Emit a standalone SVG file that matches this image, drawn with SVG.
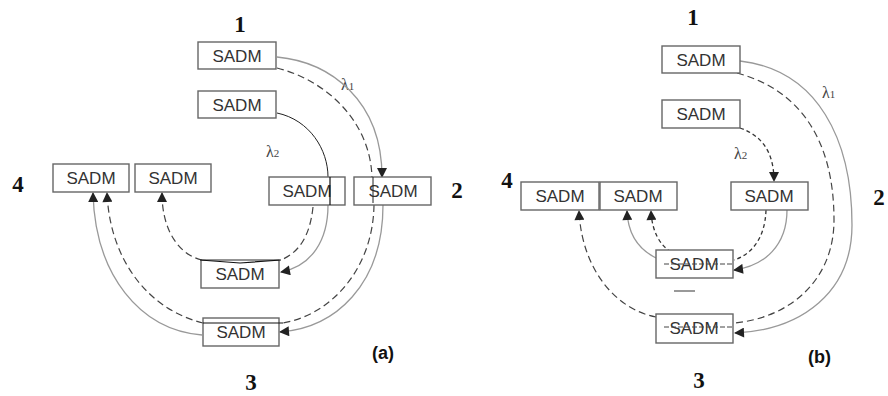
<svg xmlns="http://www.w3.org/2000/svg" width="888" height="396" viewBox="0 0 888 396">
<style>
.box rect{fill:#fff;stroke:#666;stroke-width:1.4}
.box text{font-family:"Liberation Sans",Arial,sans-serif;font-size:17px;fill:#333;text-anchor:middle}
.num{font-family:"Liberation Serif","Times New Roman",serif;font-weight:bold;font-size:23px;fill:#111;text-anchor:middle}
.lam{font-family:"Liberation Serif","Times New Roman",serif;font-size:16px;fill:#444}
.tag{font-family:"Liberation Sans",Arial,sans-serif;font-weight:bold;font-size:18px;fill:#111}
.sol{fill:none;stroke:#999;stroke-width:1.3}
.dsh{fill:none;stroke:#444;stroke-width:1.2;stroke-dasharray:7 4}
.dsh2{fill:none;stroke:#333;stroke-width:1.3;stroke-dasharray:4 3}
.thin{fill:none;stroke:#222;stroke-width:1}
.mark{fill:none;stroke:#111;stroke-width:1.2}
</style>
<defs>
<marker id="ah" viewBox="0 0 10 10" refX="9" refY="5" markerWidth="11" markerHeight="10" markerUnits="userSpaceOnUse" orient="auto">
<path d="M0,0 L10,5 L0,10 z" fill="#222"/>
</marker>
</defs>

<!-- labels -->
<text class="num" x="240" y="32">1</text>
<text class="num" x="18" y="192">4</text>
<text class="num" x="457" y="198">2</text>
<text class="num" x="251" y="390" font-weight="normal">3</text>
<text class="lam" x="341" y="90">λ<tspan font-size="11">1</tspan></text>
<text class="lam" x="266" y="157">λ<tspan font-size="11">2</tspan></text>
<text class="tag" x="372" y="359">(a)</text>

<text class="num" x="693" y="25">1</text>
<text class="num" x="507" y="188" font-size="20">4</text>
<text class="num" x="879" y="205">2</text>
<text class="num" x="699" y="388" font-weight="normal">3</text>
<text class="lam" x="822" y="98">λ<tspan font-size="11">1</tspan></text>
<text class="lam" x="734" y="159">λ<tspan font-size="11">2</tspan></text>
<text class="tag" x="808" y="363">(b)</text>

<!-- connectors -->
<g id="connectors">
<!-- panel a outer ring -->
<path class="sol" d="M277 57 C330 62 382 100 382 177" marker-end="url(#ah)"/>
<path class="dsh" d="M277 68 C325 80 370 120 372 177"/>
<path class="dsh" d="M374 205 C373 270 330 315 283 323"/>
<path class="sol" d="M383 205 C383 285 335 328 280 332" marker-end="url(#ah)"/>
<path class="sol" d="M202 335 C140 330 95 275 93 193" marker-end="url(#ah)"/>
<path class="dsh" d="M203 323 C150 310 110 262 107 193" marker-end="url(#ah)"/>
<!-- panel a inner ring -->
<path class="thin" d="M277 113 C310 120 328 150 328 177"/>
<path class="sol" d="M328 205 C328 240 312 266 281 272" marker-end="url(#ah)"/>
<path class="dsh" d="M313 207 C310 235 300 252 281 260"/>
<path class="dsh" d="M202 260 C180 255 162 232 162 193" marker-end="url(#ah)"/>

<!-- panel b outer ring -->
<path class="sol" d="M740 61 C818 70 852 140 852 225 C852 292 802 330 735 333" marker-end="url(#ah)"/>
<path class="dsh" d="M737 73 C800 90 834 140 834 220 C834 280 790 318 734 323"/>
<path class="dsh" d="M656 317 C618 310 582 272 579 211" marker-end="url(#ah)"/>
<!-- panel b inner ring -->
<path class="dsh2" d="M740 128 C760 135 774 150 774 181" marker-end="url(#ah)"/>
<path class="dsh2" d="M766 210 C765 240 750 255 734 260"/>
<path class="sol" d="M787 210 C787 245 765 266 734 270" marker-end="url(#ah)"/>
<path class="sol" d="M656 258 C640 250 628 236 627 211" marker-end="url(#ah)"/>
<path class="dsh2" d="M671 252 C660 245 652 232 651 211" marker-end="url(#ah)"/>
<line x1="674" y1="291" x2="695" y2="291" stroke="#555" stroke-width="1.2"/>
</g>

<!-- nodes panel a -->
<g id="a1" class="box"><rect x="198" y="42" width="78" height="27"/><text x="237" y="62">SADM</text></g>
<g id="a1b" class="box"><rect x="198" y="91" width="78" height="27"/><text x="237" y="111">SADM</text></g>
<g id="a4l" class="box"><rect x="53" y="164" width="76" height="28"/><text x="91" y="184">SADM</text></g>
<g id="a4r" class="box"><rect x="135" y="164" width="76" height="28"/><text x="173" y="184">SADM</text></g>
<g id="a2i" class="box"><rect x="269" y="177" width="76" height="28"/><text x="307" y="197">SADM</text></g>
<g id="a2o" class="box"><rect x="354" y="177" width="77" height="28"/><text x="393" y="197">SADM</text></g>
<g id="a3i" class="box"><rect x="201" y="260" width="78" height="28"/><text x="240" y="280">SADM</text></g>
<g id="a3o" class="box"><rect x="203" y="318" width="76" height="28"/><text x="241" y="338">SADM</text></g>

<!-- nodes panel b -->
<g id="b1" class="box"><rect x="662" y="46" width="78" height="27"/><text x="701" y="66">SADM</text></g>
<g id="b1b" class="box"><rect x="662" y="100" width="78" height="28"/><text x="701" y="120">SADM</text></g>
<g id="b4l" class="box"><rect x="521" y="182" width="78" height="28"/><text x="560" y="202">SADM</text></g>
<g id="b4r" class="box"><rect x="600" y="182" width="77" height="28"/><text x="638" y="202">SADM</text></g>
<g id="b2" class="box"><rect x="731" y="182" width="77" height="28"/><text x="769" y="202">SADM</text></g>
<g id="b3i" class="box"><rect x="656" y="250" width="77" height="28"/><text x="694" y="270">SADM</text></g>
<g id="b3o" class="box"><rect x="656" y="314" width="77" height="29"/><text x="694" y="334">SADM</text></g>

<!-- overlay marks across boxes -->
<g id="marks">
<path class="mark" d="M200 260 L240 263 L281 260"/>
<line class="mark" x1="203" y1="323" x2="283" y2="323"/>
<line class="mark" x1="330" y1="177" x2="330" y2="205"/>
<line class="thin" x1="373" y1="177" x2="373" y2="203"/>
<line x1="664" y1="264" x2="733" y2="264" stroke="#444" stroke-width="1" stroke-dasharray="5 2"/>
<line x1="664" y1="327" x2="733" y2="327" stroke="#444" stroke-width="1" stroke-dasharray="5 2"/>
</g>
</svg>
